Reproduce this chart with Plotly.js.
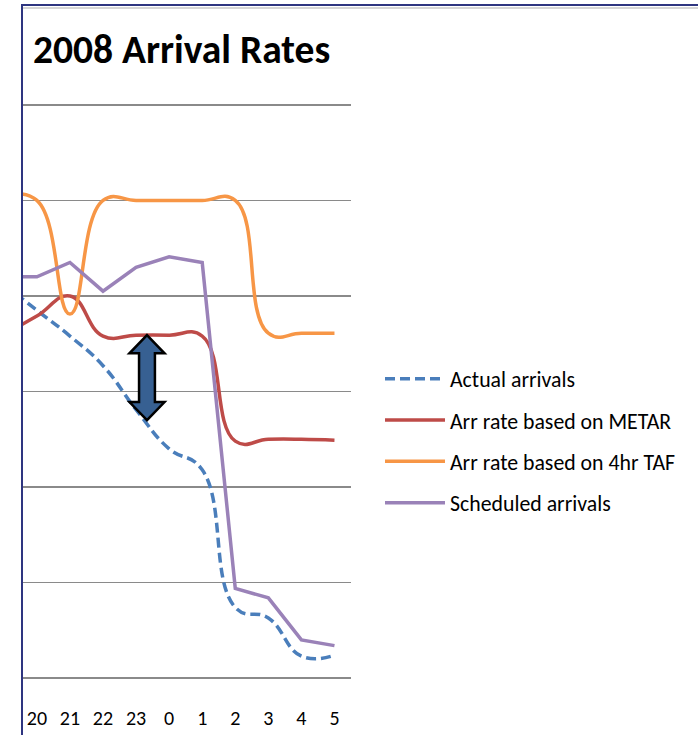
<!DOCTYPE html>
<html>
<head>
<meta charset="utf-8">
<script src="https://cdn.plot.ly/plotly-3.0.1.min.js"></script>
<style>html,body{margin:0;padding:0;background:#fff;}#chart{width:698px;height:735px;}</style>
</head>
<body>
<div id="chart"></div>
<script>
// Hours (the first one lies just left of the visible window, as in the cropped original)
const hours = ['19', '20', '21', '22', '23', '0', '1', '2', '3', '4', '5'];
const actualArrivals    = [41.2, 38.5, 35.8, 32.7, 28.1, 24.0, 21.8, 7.4, 6.3, 2.3, 2.4];
const metarRate         = [36.0, 37.9, 40.0, 35.8, 35.9, 35.9, 35.8, 24.8, 25.0, 25.0, 24.9];
const tafRate           = [50.5, 50.0, 38.1, 50.0, 50.0, 50.0, 50.0, 50.0, 36.1, 36.1, 36.1];
const scheduledArrivals = [42.0, 42.0, 43.5, 40.5, 43.0, 44.1, 43.5, 9.4, 8.4, 4.0, 3.4];

const xIdx = hours.map((h, i) => i - 1);

const FONT = 'Carlito, Lato, "Liberation Sans", sans-serif';

function mk(name, y, color, dash, shape) {
  return {
    type: 'scatter', mode: 'lines', name: name, x: xIdx, y: y,
    legendgroup: name,
    line: {color: color, width: 3.5, dash: dash, shape: shape, smoothing: 1.3},
    hoverinfo: 'skip'
  };
}

const traces = [
  mk('Actual arrivals', actualArrivals, '#4A7EBB', '10px,5px', 'spline'),
  mk('Arr rate based on METAR', metarRate, '#BE4B48', 'solid', 'spline'),
  mk('Arr rate based on 4hr TAF', tafRate, '#F79646', 'solid', 'spline'),
  mk('Scheduled arrivals', scheduledArrivals, '#9A82B8', 'solid', 'linear')
];

// double-headed block arrow (annotation graphic), in axis units
const ax = 3.33, shaftHW = 0.24, headHW = 0.53;
const yTop = 35.9, yHeadTop = 34.0, yHeadBot = 28.9, yBot = 27.0;
const arrowPath = [
  'M', ax, yTop,
  'L', ax + headHW, yHeadTop,
  'L', ax + shaftHW, yHeadTop,
  'L', ax + shaftHW, yHeadBot,
  'L', ax + headHW, yHeadBot,
  'L', ax, yBot,
  'L', ax - headHW, yHeadBot,
  'L', ax - shaftHW, yHeadBot,
  'L', ax - shaftHW, yHeadTop,
  'L', ax - headHW, yHeadTop, 'Z'
].join(' ');

const W = 698, H = 735, L = 22, R = 347, T = 102, B = 54;
const pw = W - L - R, ph = H - T - B;
const px2paperX = p => (p - L) / pw;
const px2paperY = p => (H - B - p) / ph;

const layout = {
  width: W, height: H,
  margin: {l: L, r: R, t: T, b: B, pad: 0},
  paper_bgcolor: '#ffffff', plot_bgcolor: '#ffffff',
  font: {family: FONT, color: '#000000', size: 19},
  title: {
    text: '<b>2008 Arrival Rates</b>',
    font: {family: FONT, size: 39.5, color: '#000000'},
    x: 33 / W, xanchor: 'left', xref: 'container',
    y: 1 - 49 / H, yanchor: 'middle', yref: 'container'
  },
  showlegend: true,
  legend: {
    x: px2paperX(380), xanchor: 'left',
    y: px2paperY(358), yanchor: 'top',
    font: {family: FONT, size: 21.8, color: '#000000'},
    traceorder: 'grouped', tracegroupgap: 10,
    itemwidth: 60, bgcolor: 'rgba(0,0,0,0)', borderwidth: 0
  },
  xaxis: {
    range: [-0.45, 9.5], tickvals: xIdx, ticktext: hours,
    showgrid: false, zeroline: false, showline: false, ticks: '',
    tickfont: {family: FONT, size: 20, color: '#000000'},
    ticklabelstandoff: 23, fixedrange: true
  },
  yaxis: {
    range: [-0.3, 60.3], dtick: 10, tick0: 0,
    showgrid: true, gridcolor: '#8A8A8A', gridwidth: 1.3,
    zeroline: false, showline: false, showticklabels: false, ticks: '',
    fixedrange: true
  },
  shapes: [
    {type: 'path', xref: 'x', yref: 'y', path: arrowPath,
     fillcolor: '#376092', line: {color: '#000000', width: 2.5}, layer: 'above'},
    {type: 'line', xref: 'paper', yref: 'paper', x0: 0, x1: 0,
     y0: px2paperY(735), y1: px2paperY(4), line: {color: '#2E3580', width: 2}},
    {type: 'line', xref: 'paper', yref: 'paper', x0: 0, x1: px2paperX(698),
     y0: px2paperY(5), y1: px2paperY(5), line: {color: '#2E3580', width: 2}},
    {type: 'line', xref: 'paper', yref: 'paper', x0: px2paperX(23), x1: px2paperX(698),
     y0: px2paperY(8), y1: px2paperY(8), line: {color: '#C8C8C8', width: 1.5}}
  ]
};

Plotly.newPlot('chart', traces, layout, {displayModeBar: false, staticPlot: true});
</script>
</body>
</html>
